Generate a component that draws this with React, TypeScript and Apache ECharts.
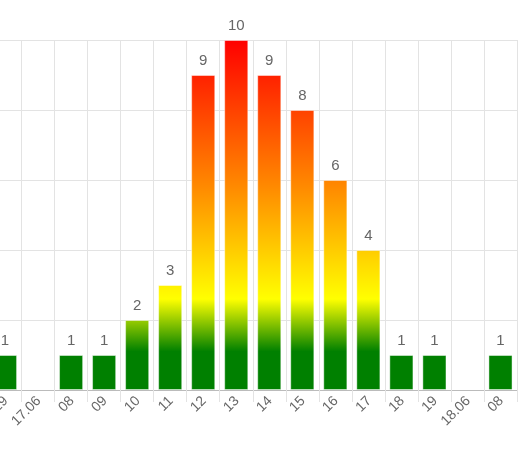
import React, { useEffect, useRef } from "react";
import * as echarts from "echarts";

const categories = ["19", "17.06", "08", "09", "10", "11", "12", "13", "14", "15", "16", "17", "18", "19", "18.06", "08"];
const counts: (number | null)[] = [1, null, 1, 1, 2, 3, 9, 10, 9, 8, 6, 4, 1, 1, null, 1];
const yMax = 10;
const yInterval = 2;

export default function App() {
  const ref = useRef<HTMLDivElement>(null);
  useEffect(() => {
    if (!ref.current) return;
    const chart = echarts.init(ref.current, null, { renderer: "svg" });
    const gradient = new echarts.graphic.LinearGradient(0, 40, 0, 390, [
      { offset: 0, color: "#ff0000" },
      { offset: 0.42, color: "#ff8a00" },
      { offset: 0.74, color: "#ffff00" },
      { offset: 0.89, color: "#008000" },
      { offset: 1, color: "#008000" },
    ], true);
    chart.setOption({
      animation: false,
      grid: { left: 0, right: 6, top: 40, bottom: 61, containLabel: false },
      xAxis: {
        type: "category",
        data: categories,
        boundaryGap: true,
        axisLine: { lineStyle: { color: "#bbbbbb", width: 1 } },
        axisTick: { show: true, length: 12, lineStyle: { color: "#e3e3e3" } },
        splitLine: { show: true, lineStyle: { color: "#e3e3e3" } },
        axisLabel: {
          rotate: 45,
          color: "#666666",
          fontSize: 14,
          fontFamily: "Liberation Sans, Arial, sans-serif",
          margin: 8,
          interval: 0,
        },
      },
      yAxis: {
        type: "value",
        min: 0,
        max: yMax,
        interval: yInterval,
        axisLabel: { show: false },
        axisLine: { show: false },
        axisTick: { show: false },
        splitLine: { lineStyle: { color: "#e3e3e3" } },
      },
      series: [
        {
          type: "bar",
          data: counts,
          barCategoryGap: "27%",
          itemStyle: { color: gradient, borderColor: "rgba(255,255,255,0.45)", borderWidth: 1 },
          label: {
            show: true,
            position: "top",
            distance: 8,
            color: "#666666",
            fontSize: 15,
            fontFamily: "Liberation Sans, Arial, sans-serif",
          },
        },
      ],
    });
    return () => chart.dispose();
  }, []);
  return <div ref={ref} style={{ position: "fixed", left: -13, top: 0, width: 536, height: 451 }} />;
}
